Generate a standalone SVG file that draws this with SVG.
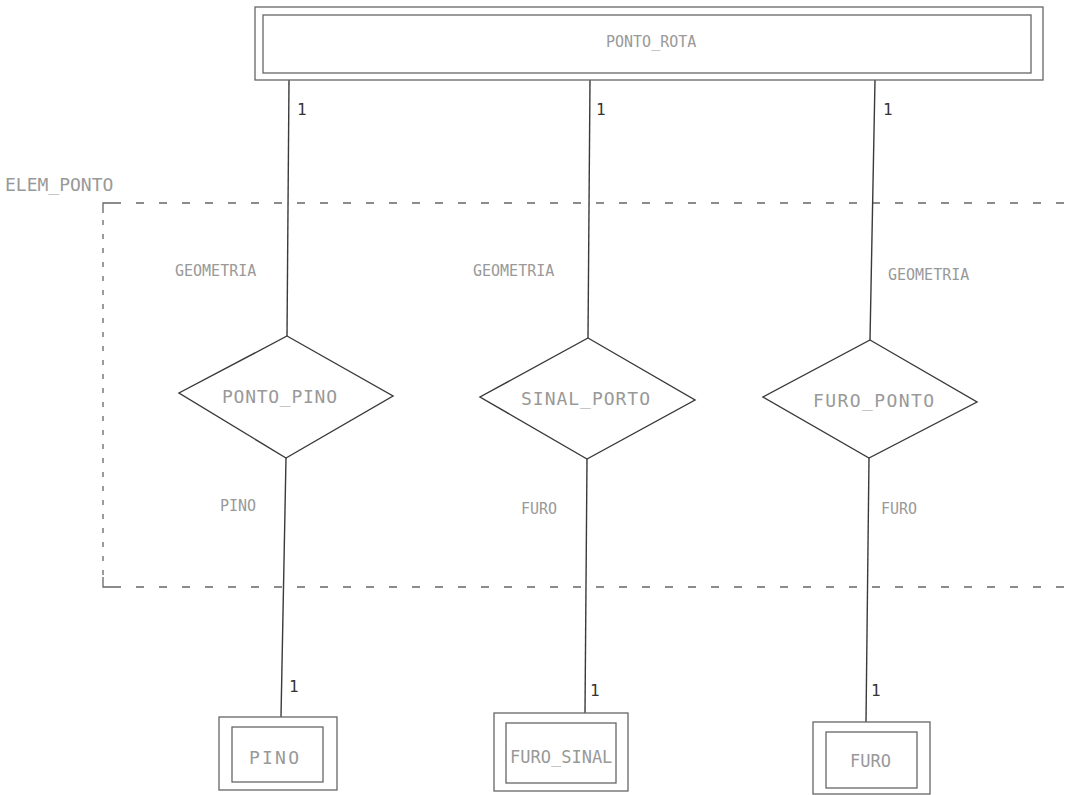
<svg xmlns="http://www.w3.org/2000/svg" width="1073" height="795" viewBox="0 0 1073 795">
<style>
.ln{stroke:#3a3a3a;stroke-width:1.4;fill:none}
.bx{stroke:#666;stroke-width:1.3;fill:none}
.dsh{stroke:#666;stroke-width:1.3;fill:none;stroke-dasharray:8 15}
.dv{stroke:#666;stroke-width:1.3;fill:none;stroke-dasharray:5 9}
.t{font-family:"DejaVu Sans Mono","Liberation Mono",monospace;font-size:18px;fill:#999}
.s{font-size:15px}
.m{font-size:17px}
.one{font-family:"DejaVu Sans Mono","Liberation Mono",monospace;font-size:16px;fill:#333}
</style>
<rect width="1073" height="795" fill="#fff"/>
<g id="ELEM_PONTO">
<path class="dsh" d="M113,203 H1073"/>
<path class="dsh" d="M113,587 H1073"/>
<path class="bx" d="M103,213 V203 H113"/>
<path class="bx" d="M103,577 V587 H113"/>
<path class="dv" d="M103,220 V575"/>
<text class="t" x="5" y="191">ELEM_PONTO</text>
</g>
<g id="connectors">
<line class="ln" x1="289" y1="80" x2="287" y2="336"/>
<line class="ln" x1="286" y1="458" x2="281" y2="717"/>
<line class="ln" x1="590" y1="80" x2="588" y2="338"/>
<line class="ln" x1="587" y1="459" x2="585" y2="713"/>
<line class="ln" x1="875" y1="80" x2="870" y2="340"/>
<line class="ln" x1="869" y1="458" x2="866" y2="722"/>
<text class="one" x="297" y="115">1</text>
<text class="one" x="596" y="115">1</text>
<text class="one" x="883" y="115">1</text>
<text class="one" x="289" y="692">1</text>
<text class="one" x="590" y="696">1</text>
<text class="one" x="871" y="696">1</text>
<text class="t s" x="175" y="276">GEOMETRIA</text>
<text class="t s" x="473" y="276">GEOMETRIA</text>
<text class="t s" x="888" y="280">GEOMETRIA</text>
<text class="t s" x="220" y="511">PINO</text>
<text class="t s" x="521" y="514">FURO</text>
<text class="t s" x="881" y="514">FURO</text>
</g>
<g id="PONTO_ROTA">
<rect class="bx" x="255" y="7" width="788" height="73"/>
<rect class="bx" x="263" y="15" width="768" height="58"/>
<text class="t s" x="606" y="47">PONTO_ROTA</text>
</g>
<g id="PONTO_PINO">
<polygon class="ln" points="287,336 393,396 286,458 179,393"/>
<text class="t" x="222" y="403" textLength="115" lengthAdjust="spacing">PONTO_PINO</text>
</g>
<g id="SINAL_PORTO">
<polygon class="ln" points="588,338 695,400 587,459 480,397"/>
<text class="t" x="521" y="405" textLength="129" lengthAdjust="spacing">SINAL_PORTO</text>
</g>
<g id="FURO_PONTO">
<polygon class="ln" points="870,340 977,402 869,458 763,397"/>
<text class="t" x="813" y="407" textLength="121" lengthAdjust="spacing">FURO_PONTO</text>
</g>
<g id="PINO">
<rect class="bx" x="219" y="717" width="118" height="73"/>
<rect class="bx" x="232" y="727" width="91" height="55"/>
<text class="t" x="249" y="764" textLength="50" lengthAdjust="spacing">PINO</text>
</g>
<g id="FURO_SINAL">
<rect class="bx" x="494" y="713" width="134" height="78"/>
<rect class="bx" x="506" y="723" width="110" height="60"/>
<text class="t m" x="510" y="763">FURO_SINAL</text>
</g>
<g id="FURO">
<rect class="bx" x="813" y="722" width="117" height="72"/>
<rect class="bx" x="826" y="732" width="91" height="56"/>
<text class="t m" x="850" y="767">FURO</text>
</g>
</svg>
